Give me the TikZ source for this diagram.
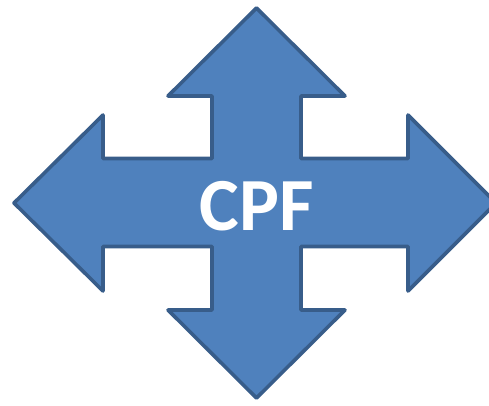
\documentclass[tikz,border=0pt]{standalone}
\usepackage{fontspec}
\newfontfamily\labelfont{Carlito}
\definecolor{arrowfill}{HTML}{4F81BD}
\definecolor{arrowline}{HTML}{385D8A}
\begin{document}
\begin{tikzpicture}[x=1pt,y=-1pt,
  arrowshape/.style={fill=arrowfill,draw=arrowline,line width=3.6pt,line join=round},
  centrelabel/.style={text=white,font=\labelfont\bfseries\fontsize{75}{80}\selectfont,inner sep=0pt}]
\useasboundingbox (0,0) rectangle (489,405);
\clip (0,0) rectangle (489,405);
\draw[arrowshape] (256.5,8) -- (345,96) -- (301,96) -- (301,158.5) -- (408,158.5) -- (408,115)
  -- (496,203) -- (408,291) -- (408,246.5) -- (301,246.5) -- (301,310) -- (345,310)
  -- (256.5,398) -- (168,310) -- (212,310) -- (212,246.5) -- (103,246.5) -- (103,291)
  -- (14,203) -- (103,115) -- (103,158.5) -- (212,158.5) -- (212,96) -- (168,96) -- cycle;
\node[centrelabel,anchor=base] (cpf) at (257,230) {CPF};
\end{tikzpicture}
\end{document}
